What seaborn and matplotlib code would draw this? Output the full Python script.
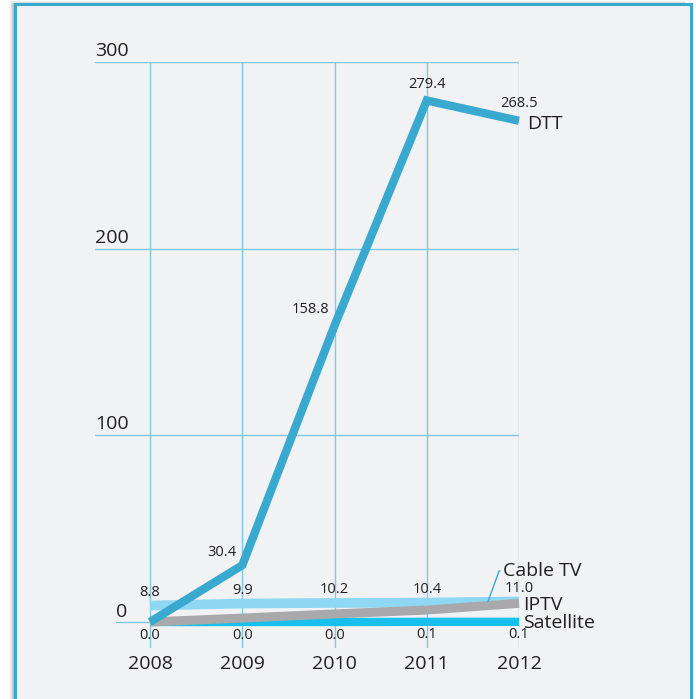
import numpy as np
import pandas as pd
import matplotlib as mpl
import matplotlib.pyplot as plt
import seaborn as sns
from matplotlib.patches import Rectangle

sns.set_theme(style="white")
plt.rcParams['font.family'] = ['Open Sans', 'DejaVu Sans']

# data
years = [2008, 2009, 2010, 2011, 2012]
dtt = [0.0, 30.4, 158.8, 279.4, 268.5]
cable = [8.8, 9.9, 10.2, 10.4, 11.0]
iptv = [0.0, 2.1, 4.3, 6.4, 10.0]
satellite = [0.0, 0.0, 0.0, 0.1, 0.1]
yticks = [0, 100, 200, 300]

df = pd.DataFrame({"year": years, "DTT": dtt, "Cable TV": cable,
                   "IPTV": iptv, "Satellite": satellite})

colors = {"DTT": "#3aa9d0", "Cable TV": "#8ed8f3", "IPTV": "#a9a9ac", "Satellite": "#17c0ee"}
widths = {"DTT": 6.0, "Cable TV": 7.0, "IPTV": 6.5, "Satellite": 6.0}
grid_c = "#80c8ea"
text_c = "#231f20"

fig = plt.figure(figsize=(6.96, 6.99), dpi=100)
fig.patch.set_facecolor("white")

# outer panel with soft shadow on the left
W, H = 696, 699
for i, a in enumerate([0.05, 0.08, 0.12, 0.17, 0.23, 0.3]):
    fig.patches.append(Rectangle(((9 + i) / W, -0.1), (676 - i) / W, 1.1 - (1 + i * 0.5) / H,
                                 transform=fig.transFigure, facecolor="#808080",
                                 edgecolor="none", alpha=a, zorder=-3))
fig.patches.append(Rectangle((15 / W, -0.1), 676 / W, 1.1 - 4 / H, transform=fig.transFigure,
                             facecolor="#f1f2f4", edgecolor="#3aa9d0", lw=2.2, zorder=-2))

ax = fig.add_axes([95 / W, 1 - 648 / H, 424 / W, 586 / H])
ax.set_facecolor("none")

for name in ["Satellite", "Cable TV", "IPTV", "DTT"]:
    sns.lineplot(data=df, x="year", y=name, ax=ax, color=colors[name], lw=widths[name],
                 solid_joinstyle="miter", solid_capstyle="butt", clip_on=False, zorder=3)

ax.set_xlim(2008 - 55 / 92.25, 2012)
ax.set_ylim(-26 / 1.8667, 300)
for s in ax.spines.values():
    s.set_visible(False)

# grid
for x in years:
    ax.axvline(x, color=grid_c, lw=1, zorder=1)
for v in yticks:
    xmin = 0.05 if v == 0 else 0
    ax.axhline(v, xmin=xmin, color=grid_c, lw=1, zorder=1)
    xl = 2008 - 34 / 92.25 if v == 0 else ax.get_xlim()[0]
    ax.text(xl, v + (0.3 if v == 0 else 1), str(v), ha="left", va="bottom",
            fontsize=14, color=text_c)

ax.set_xticks(years)
ax.set_xticklabels([str(y) for y in years], fontsize=14, color=text_c)
ax.set_yticks([])
ax.tick_params(axis="x", length=0, pad=5)
ax.set_xlabel("")
ax.set_ylabel("")

# value labels
dtt_off = [None, (-4, 4, "right"), (-4, 6, "right"), (0, 6, "center"), (0, 7, "center")]
for x, v, o in zip(years, dtt, dtt_off):
    if o is None:
        continue
    ax.annotate(f"{v:.1f}", (x, v), xytext=(o[0], o[1]), textcoords="offset points",
                ha=o[2], va="bottom", fontsize=10.5, color=text_c, zorder=5)
for x, v in zip(years, cable):
    ax.annotate(f"{v:.1f}", (x, v), xytext=(0, 4), textcoords="offset points",
                ha="center", va="bottom", fontsize=10.5, color=text_c, zorder=5)
for x, v in zip(years, satellite):
    ax.annotate(f"{v:.1f}", (x, v), xytext=(0, -4), textcoords="offset points",
                ha="center", va="top", fontsize=10.5, color=text_c, zorder=5)

# series names
ax.annotate("DTT", (2012, dtt[-1]), xytext=(6, -2), textcoords="offset points",
            ha="left", va="center", fontsize=14, color=text_c, annotation_clip=False)
ax.annotate("IPTV", (2012, iptv[-1]), xytext=(3, -1), textcoords="offset points",
            ha="left", va="center", fontsize=14, color=text_c, annotation_clip=False)
ax.annotate("Satellite", (2012, satellite[-1]), xytext=(3, -1), textcoords="offset points",
            ha="left", va="center", fontsize=14, color=text_c, annotation_clip=False)
ax.annotate("Cable TV", (2012 - 31 / 92.25, cable[-1]), xytext=(11, 22), textcoords="offset points",
            ha="left", va="center", fontsize=14, color=text_c, annotation_clip=False,
            arrowprops=dict(arrowstyle="-", color="#3aa9d0", lw=1, shrinkA=0, shrinkB=0,
                            connectionstyle="angle,angleA=0,angleB=70,rad=0"))

fig.savefig("out.png", dpi=100)
